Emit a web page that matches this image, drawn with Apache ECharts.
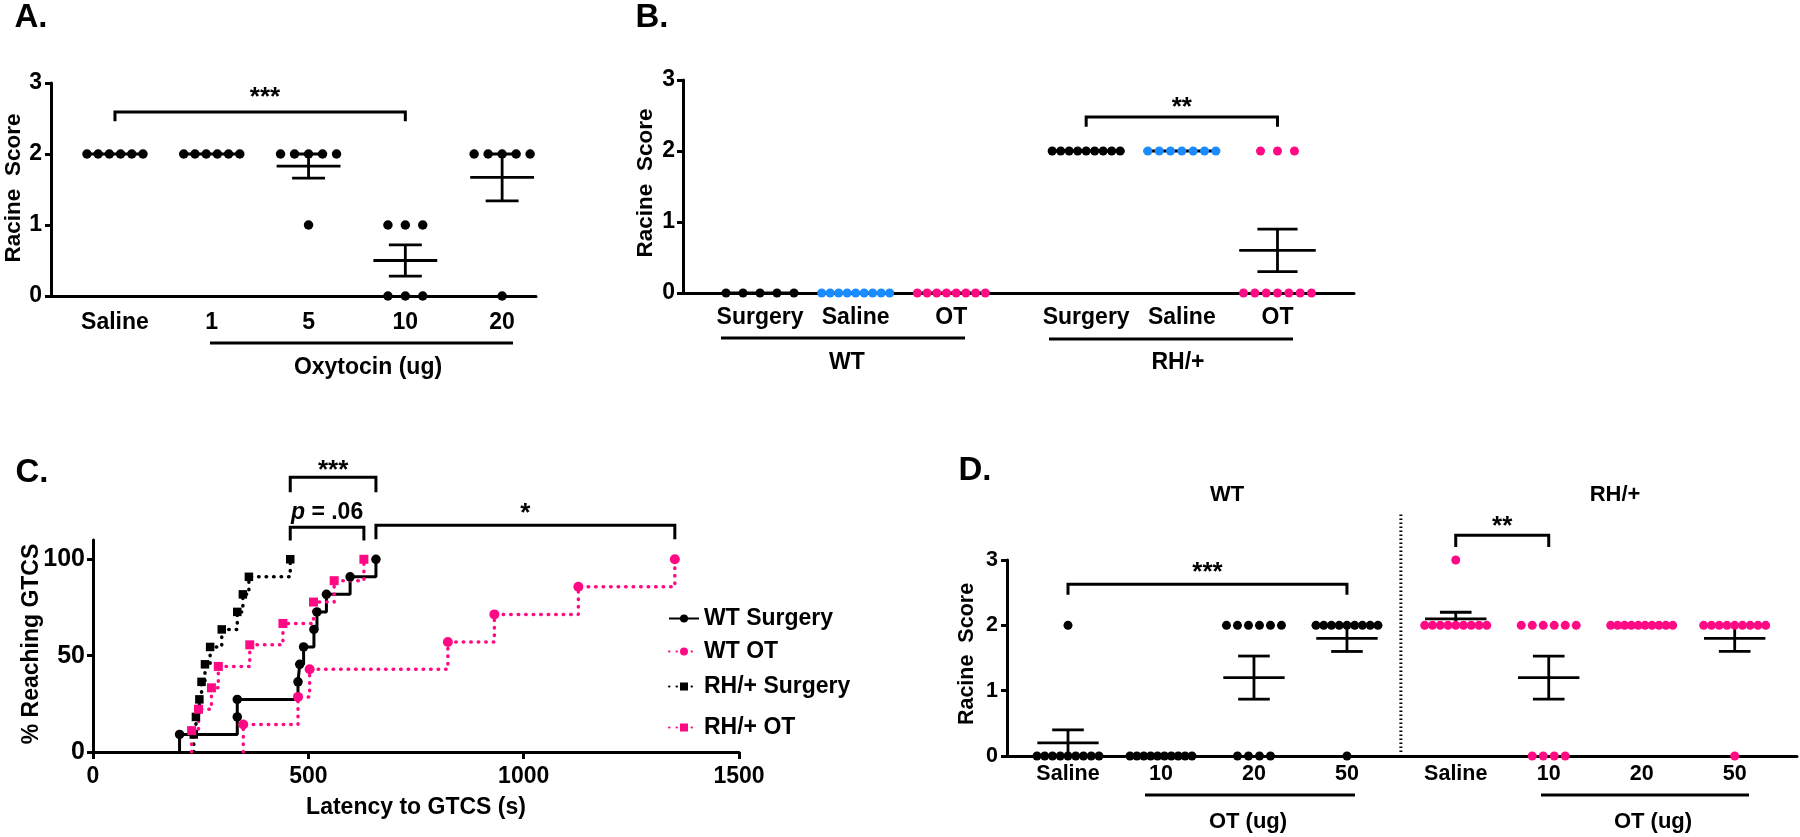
<!DOCTYPE html>
<html><head><meta charset="utf-8">
<script src="https://cdn.jsdelivr.net/npm/echarts@6/dist/echarts.min.js"></script>
<style>html,body{margin:0;padding:0;background:#fff}#chart{width:1800px;height:837px}</style>
</head><body><div id="chart"></div>
<script>
// ================= DATA =================
// Panel A: Racine score by oxytocin dose
const aCategories = ['Saline', '1', '5', '10', '20'];
const aAxisTitle = 'Oxytocin (ug)';
const aSaline = [2, 2, 2, 2, 2, 2];
const aOT1 = [2, 2, 2, 2, 2, 2];
const aOT5 = [2, 2, 2, 2, 2, 1];
const aOT10 = [1, 1, 1, 0, 0, 0];
const aOT20 = [2, 2, 2, 2, 2, 0];
const aMean = [2, 2, 1.83, 0.5, 1.67];
const aSem = [0, 0, 0.17, 0.22, 0.33];
const aComparisons = [[0, 3, '***']];

// Panel B
const bCategories = ['Surgery', 'Saline', 'OT', 'Surgery', 'Saline', 'OT'];
const bGenotypes = ['WT', 'RH/+'];
const bWTSurgery = [0, 0, 0, 0, 0];
const bWTSaline = [0, 0, 0, 0, 0, 0, 0, 0, 0];
const bWTOT = [0, 0, 0, 0, 0, 0, 0, 0];
const bRHSurgery = [2, 2, 2, 2, 2, 2, 2, 2, 2];
const bRHSaline = [2, 2, 2, 2, 2, 2, 2];
const bRHOT = [2, 2, 2, 0, 0, 0, 0, 0, 0, 0];
const bMean = [0, 0, 0, 2, 2, 0.6];
const bSem = [0, 0, 0, 0, 0, 0.3];
const bComparisons = [[3, 5, '**']];

// Panel C: cumulative % reaching GTCS (latency s, %)
const cNames = ['WT Surgery', 'WT OT', 'RH/+ Surgery', 'RH/+ OT'];
const cWTSurgery = [[201, 9.1], [335, 18.2], [335, 27.3], [476, 36.4], [480, 45.5], [489, 54.5], [513, 63.6], [520, 72.7], [542, 81.8], [597, 90.9], [657, 100]];
const cWTOT = [[349, 14.3], [476, 28.6], [503, 42.9], [824, 57.1], [932, 71.4], [1127, 85.7], [1351, 100]];
const cRHSurgery = [[234, 9.1], [239, 18.2], [247, 27.3], [252, 36.4], [260, 45.5], [272, 54.5], [299, 63.6], [335, 72.7], [348, 81.8], [362, 90.9], [458, 100]];
const cRHOT = [[229, 11.1], [245, 22.2], [275, 33.3], [291, 44.4], [364, 55.6], [441, 66.7], [512, 77.8], [560, 88.9], [629, 100]];
const cXTicks = [0, 500, 1000, 1500];
const cYTicks = [0, 50, 100];
const cXTitle = 'Latency to GTCS (s)';
const cYTitle = '% Reaching GTCS';
// comparisons between series (by index): [seriesA, seriesB, label]
const cComparisons = [[2, 0, '***'], [2, 3, '{i|p} = .06'], [0, 1, '*']];

// Panel D
const dCategories = ['Saline', '10', '20', '50', 'Saline', '10', '20', '50'];
const dAxisTitle = 'OT (ug)';
const dWTSaline = [2, 0, 0, 0, 0, 0, 0, 0, 0, 0];
const dWT10 = [0, 0, 0, 0, 0, 0, 0, 0, 0, 0];
const dWT20 = [2, 2, 2, 2, 2, 2, 0, 0, 0, 0];
const dWT50 = [2, 2, 2, 2, 2, 2, 2, 2, 2, 0];
const dRHSaline = [3, 2, 2, 2, 2, 2, 2, 2, 2, 2];
const dRH10 = [2, 2, 2, 2, 2, 2, 0, 0, 0, 0];
const dRH20 = [2, 2, 2, 2, 2, 2, 2, 2, 2, 2];
const dRH50 = [2, 2, 2, 2, 2, 2, 2, 2, 2, 0];
const dMean = [0.2, 0, 1.2, 1.8, 2.1, 1.2, 2, 1.8];
const dSem = [0.2, 0, 0.33, 0.2, 0.1, 0.33, 0, 0.2];
const dComparisons = [[0, 3, '***'], [4, 5, '**']];

const yTitle = 'Racine  Score';
const panelTitles = ['A.', 'B.', 'C.', 'D.'];

// ================= LAYOUT / STYLE =================
const PINK = '#FF0A84', BLUE = '#1A8CFF', BLACK = '#000000';
const FONT = '"Liberation Sans", Arial, Helvetica, sans-serif';
const fnt = (s, it) => (it ? 'italic ' : '') + 'bold ' + s + 'px ' + FONT;

const L = {
  A: { grid: { left: 51, top: 83, width: 485, height: 213 }, min: -0.661, max: 4.35, pos: [0, 1, 2, 3, 4], unit: 96.8,
       dot: 9.5, maxSp: 17.4, maxW: 56, meanHalf: 0.33, capHalf: 0.17, colors: [BLACK, BLACK, BLACK, BLACK, BLACK],
       fs: 23, xMargin: 15, yMargin: 9, brTop: 2.59, brLeg: 2.46, starY: 2.79 },
  B: { grid: { left: 683, top: 80, width: 671, height: 213 }, min: -0.805, max: 6.21, pos: [0, 1, 2, 3.41, 4.41, 5.41], unit: 95.7,
       dot: 9, maxSp: 17, maxW: 68, meanHalf: 0.40, capHalf: 0.21, colors: [BLACK, BLUE, PINK, BLACK, BLUE, PINK],
       fs: 23, xMargin: 13, yMargin: 8, brTop: [2.48], brLeg: [2.34], starY: [2.61] },
  C: { grid: { left: 93, top: 540, width: 646, height: 212 },
       brTop: [142.6, 116.6, 117.6], brLeg: [134.8, 109.8, 110.4], textY: [146.1, 124.4, 123.8],
       legendTops: [607, 640, 675, 716], colors: [BLACK, PINK, BLACK, PINK],
       dotted: [false, true, true, true], symbols: ['circle', 'circle', 'rect', 'rect'], symSize: [9.5, 10, 8.5, 9] },
  D: { grid: { left: 1007, top: 560, width: 790, height: 196 }, min: -0.656, max: 7.84, pos: [0, 1, 2, 3, 4.17, 5.17, 6.17, 7.17], unit: 93,
       dot: 9, maxSp: 11, maxW: 62, meanHalf: 0.33, capHalf: 0.17,
       colors: [BLACK, BLACK, BLACK, BLACK, PINK, PINK, PINK, PINK],
       fs: 21.5, xMargin: 7, yMargin: 9, brTop: [2.63, 3.38], brLeg: [2.47, 3.2], starY: [2.80, 3.51], sep: [3.58, 0.06, 3.73] }
};

// ================= HELPERS =================
function spread(groups, P) {
  const out = [];
  groups.forEach((vals, gi) => {
    const counts = new Map();
    vals.forEach(v => counts.set(v, (counts.get(v) || 0) + 1));
    counts.forEach((m, v) => {
      const sp = m > 1 ? Math.min(P.maxSp, P.maxW / (m - 1)) : 0;
      for (let j = 0; j < m; j++) {
        out.push({ value: [P.pos[gi] + (j - (m - 1) / 2) * sp / P.unit, v], itemStyle: { color: P.colors[gi], opacity: 1 } });
      }
    });
  });
  return out;
}
function catX(gi, P, labels) {
  return {
    type: 'value', gridIndex: gi, min: P.min, max: P.max,
    axisLine: { show: true, onZero: false, lineStyle: { color: '#000', width: 3 } },
    axisTick: { show: false }, splitLine: { show: false },
    axisLabel: {
      customValues: P.pos, color: '#000', fontWeight: 'bold', fontSize: P.fs, fontFamily: FONT, margin: P.xMargin,
      formatter: v => { const i = P.pos.findIndex(p => Math.abs(p - v) < 1e-6); return i >= 0 ? labels[i] : ''; }
    }
  };
}
function scoreY(gi, P) {
  return {
    type: 'value', gridIndex: gi, min: 0, max: 3, interval: 1,
    axisLine: { show: true, onZero: false, lineStyle: { color: '#000', width: 3 } },
    axisTick: { show: true, length: 6, lineStyle: { color: '#000', width: 3 } },
    splitLine: { show: false },
    axisLabel: { color: '#000', fontWeight: 'bold', fontSize: P.fs, fontFamily: FONT, margin: P.yMargin }
  };
}
function errSeries(gi, P, mean, sem) {
  return {
    type: 'custom', xAxisIndex: gi, yAxisIndex: gi, z: 2, silent: true, clip: false,
    data: P.pos.map((p, i) => [p, mean[i], sem[i]]),
    encode: { x: 0, y: 1 },
    renderItem: (params, api) => {
      const x = api.value(0), m = api.value(1), s = api.value(2);
      const c = api.coord([x, m]);
      const l = api.coord([x - P.meanHalf, m]), r = api.coord([x + P.meanHalf, m]);
      const cl = api.coord([x - P.capHalf, m]), cr = api.coord([x + P.capHalf, m]);
      const t = api.coord([x, m + s]), b = api.coord([x, m - s]);
      const st = { stroke: '#000', lineWidth: 2.8 };
      const ch = [{ type: 'line', shape: { x1: l[0], y1: c[1], x2: r[0], y2: c[1] }, style: st }];
      if (s > 0) {
        ch.push({ type: 'line', shape: { x1: c[0], y1: t[1], x2: c[0], y2: b[1] }, style: st });
        ch.push({ type: 'line', shape: { x1: cl[0], y1: t[1], x2: cr[0], y2: t[1] }, style: st });
        ch.push({ type: 'line', shape: { x1: cl[0], y1: b[1], x2: cr[0], y2: b[1] }, style: st });
      }
      return { type: 'group', children: ch };
    }
  };
}
function scatterSeries(gi, P, groups) {
  return {
    type: 'scatter', xAxisIndex: gi, yAxisIndex: gi, z: 3, silent: true,
    symbol: 'circle', symbolSize: P.dot, itemStyle: { opacity: 1 }, data: spread(groups, P)
  };
}
// brackets: rows [x1, x2, yTop, yLeg, textX, textY, label, fontSize]
function bracketSeries(gi, rows) {
  return {
    type: 'custom', xAxisIndex: gi, yAxisIndex: gi, z: 4, silent: true, clip: false,
    data: rows.map(r => r.slice(0, 6)),
    encode: { x: 0, y: 2 },
    renderItem: (params, api) => {
      const r = rows[params.dataIndex];
      const p1 = api.coord([r[0], r[3]]), p2 = api.coord([r[0], r[2]]);
      const p3 = api.coord([r[1], r[2]]), p4 = api.coord([r[1], r[3]]);
      const tp = api.coord([r[4], r[5]]);
      return {
        type: 'group', children: [
          { type: 'polyline', shape: { points: [p1, p2, p3, p4] }, style: { stroke: '#000', lineWidth: 3, fill: null } },
          { type: 'text', x: tp[0], y: tp[1], style: {
              text: r[6], font: fnt(r[7]), fill: '#000', align: 'center', verticalAlign: 'middle',
              rich: { i: { font: fnt(r[7], true), fill: '#000' } } } }
        ]
      };
    }
  };
}
function txt(x, y, text, size, rot) {
  return { type: 'text', x, y, rotation: rot || 0, silent: true,
    style: { text, fill: '#000', font: fnt(size), align: 'center', verticalAlign: 'middle', textAlign: 'center', textVerticalAlign: 'middle' } };
}
function hline(x1, x2, y) {
  return { type: 'line', silent: true, shape: { x1, y1: y, x2, y2: y }, style: { stroke: '#000', lineWidth: 3 } };
}

// ================= BUILD =================
const cSeriesData = [cWTSurgery, cWTOT, cRHSurgery, cRHOT];
const lastX = s => s[s.length - 1][0];

const cSeries = cSeriesData.map((d, i) => ({
  type: 'line', name: cNames[i], xAxisIndex: 2, yAxisIndex: 2, z: 3, silent: true,
  step: 'end', showSymbol: true, symbol: L.C.symbols[i], symbolSize: L.C.symSize[i],
  itemStyle: { color: L.C.colors[i], opacity: 1 },
  lineStyle: L.C.dotted[i] ? { color: L.C.colors[i], width: 3.5, type: [0.5, 7], cap: 'round' } : { color: L.C.colors[i], width: 3 },
  data: [{ value: [d[0][0], 0], symbol: 'none' }].concat(d.map(p => ({ value: p })))
}));

const aRows = aComparisons.map(c => [L.A.pos[c[0]], L.A.pos[c[1]], L.A.brTop, L.A.brLeg, 1.55, L.A.starY, c[2], 26]);
const bRows = bComparisons.map((c, k) => [L.B.pos[c[0]], L.B.pos[c[1]], L.B.brTop[k], L.B.brLeg[k], L.B.pos[(c[0] + c[1]) / 2], L.B.starY[k], c[2], 26]);
const cRows = cComparisons.map((c, k) => {
  const x1 = lastX(cSeriesData[c[0]]), x2 = lastX(cSeriesData[c[1]]);
  return [x1, x2, L.C.brTop[k], L.C.brLeg[k], (x1 + x2) / 2, L.C.textY[k], c[2], k === 1 ? 23 : 26];
});
const dRows = dComparisons.map((c, k) => {
  const x1 = L.D.pos[c[0]], x2 = L.D.pos[c[1]];
  return [x1, x2, L.D.brTop[k], L.D.brLeg[k], (x1 + x2) / 2, L.D.starY[k], c[2], 26];
});

const option = {
  animation: false,
  backgroundColor: '#ffffff',
  textStyle: { fontFamily: FONT },
  grid: [L.A.grid, L.B.grid, L.C.grid, L.D.grid].map(g => Object.assign({ containLabel: false }, g)),
  xAxis: [
    catX(0, L.A, aCategories),
    catX(1, L.B, bCategories),
    {
      type: 'value', gridIndex: 2, min: 0, max: 1500, interval: 500,
      axisLine: { show: true, onZero: false, lineStyle: { color: '#000', width: 3 } },
      axisTick: { show: true, length: 7, customValues: cXTicks, lineStyle: { color: '#000', width: 3 } },
      splitLine: { show: false },
      axisLabel: { customValues: cXTicks, formatter: v => String(v), color: '#000', fontWeight: 'bold', fontSize: 23, fontFamily: FONT, margin: 13 }
    },
    catX(3, L.D, dCategories)
  ],
  yAxis: [
    scoreY(0, L.A),
    scoreY(1, L.B),
    {
      type: 'value', gridIndex: 2, min: 0, max: 110,
      axisLine: { show: true, onZero: false, lineStyle: { color: '#000', width: 3 } },
      axisTick: { show: true, length: 6, customValues: cYTicks, lineStyle: { color: '#000', width: 3 } },
      splitLine: { show: false },
      axisLabel: { customValues: cYTicks, formatter: v => String(v), color: '#000', fontWeight: 'bold', fontSize: 25, fontFamily: FONT, margin: 8 }
    },
    scoreY(3, L.D)
  ],
  legend: cNames.map((n, i) => ({
    data: [n], orient: 'vertical', left: 668, top: L.C.legendTops[i], itemWidth: 30, itemHeight: 10,
    selectedMode: false, padding: 0,
    textStyle: { color: '#000', fontWeight: 'bold', fontSize: 23, fontFamily: FONT }
  })),
  series: [
    errSeries(0, L.A, aMean, aSem),
    scatterSeries(0, L.A, [aSaline, aOT1, aOT5, aOT10, aOT20]),
    bracketSeries(0, aRows),
    errSeries(1, L.B, bMean, bSem),
    scatterSeries(1, L.B, [bWTSurgery, bWTSaline, bWTOT, bRHSurgery, bRHSaline, bRHOT]),
    bracketSeries(1, bRows),
    ...cSeries,
    bracketSeries(2, cRows),
    errSeries(3, L.D, dMean, dSem),
    scatterSeries(3, L.D, [dWTSaline, dWT10, dWT20, dWT50, dRHSaline, dRH10, dRH20, dRH50]),
    bracketSeries(3, dRows),
    {
      type: 'custom', xAxisIndex: 3, yAxisIndex: 3, z: 2, silent: true, clip: false,
      data: [L.D.sep], encode: { x: 0, y: 1 },
      renderItem: (params, api) => {
        const a = api.coord([api.value(0), api.value(1)]), b = api.coord([api.value(0), api.value(2)]);
        return { type: 'line', shape: { x1: a[0], y1: a[1], x2: b[0], y2: b[1] },
                 style: { stroke: '#000', lineWidth: 3, lineDash: [1.5, 2.5] } };
      }
    }
  ],
  graphic: [
    txt(31, 18, panelTitles[0], 33), txt(652, 18, panelTitles[1], 33),
    txt(32, 473, panelTitles[2], 33), txt(975, 471, panelTitles[3], 33),
    txt(14, 188, yTitle, 22.5, Math.PI / 2), txt(646, 183, yTitle, 22.5, Math.PI / 2),
    txt(32, 644, cYTitle, 23, Math.PI / 2), txt(967, 654, yTitle, 21.5, Math.PI / 2),
    txt(416, 808, cXTitle, 23),
    hline(210, 513, 343), txt(368, 368, aAxisTitle, 23),
    hline(721, 965, 338), txt(847, 363, bGenotypes[0], 23),
    hline(1049, 1293, 339), txt(1178, 363, bGenotypes[1], 23),
    txt(1227, 495, bGenotypes[0], 22), txt(1615, 495, bGenotypes[1], 22),
    hline(1145, 1355, 795), txt(1248, 822, dAxisTitle, 22),
    hline(1541, 1749, 795), txt(1653, 822, dAxisTitle, 22)
  ]
};

const chart = echarts.init(document.getElementById('chart'));
chart.setOption(option);
</script>
</body></html>
